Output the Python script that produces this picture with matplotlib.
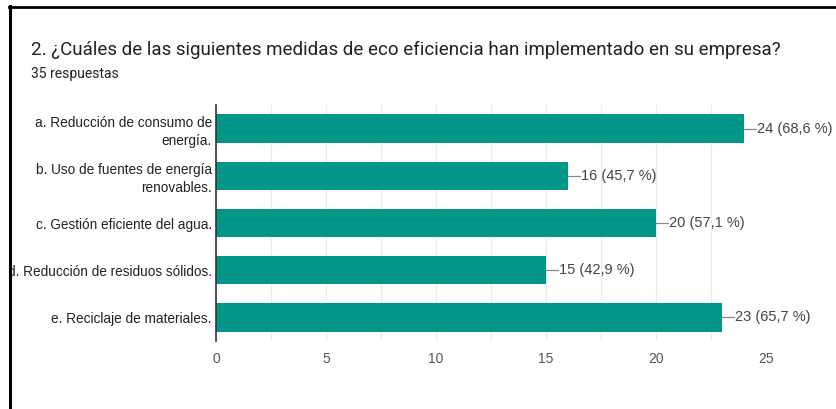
import matplotlib.pyplot as plt
from matplotlib.lines import Line2D
from matplotlib.patches import Rectangle

# survey data
categories = ["a. Reducción de consumo de\nenergía.",
              "b. Uso de fuentes de energía\nrenovables.",
              "c. Gestión eficiente del agua.",
              "d. Reducción de residuos sólidos.",
              "e. Reciclaje de materiales."]
counts = [24, 16, 20, 15, 23]
total = 35
xticks = [0, 5, 10, 15, 20, 25]

title = "2. ¿Cuáles de las siguientes medidas de eco eficiencia han implementado en su empresa?"
subtitle = f"{total} respuestas"

bar_color = "#009688"
text_color = "#444444"

fig = plt.figure(figsize=(8.36, 4.09), dpi=100)
ax = fig.add_axes([216 / 836, 1 - 341 / 409, 550 / 836, 236 / 409])

y = list(range(len(categories)))
ax.barh(y, counts, height=0.6, color=bar_color, zorder=3)
ax.set_ylim(len(categories) - 0.5, -0.5)
ax.set_xlim(0, 25)

ax.set_yticks(y)
ax.set_yticklabels(categories, fontsize=9.8, color="#222222",
                   family="Liberation Sans", linespacing=1.35,
                   multialignment="right")
ax.set_xticks(xticks)
ax.set_xticklabels([str(t) for t in xticks], fontsize=10, color="#555555",
                   family="Liberation Sans")
ax.set_xticks([2.5, 7.5, 12.5, 17.5, 22.5], minor=True)
ax.tick_params(axis="both", which="both", length=0, pad=8)
ax.tick_params(axis="y", pad=3)
ax.grid(axis="x", which="both", color="#ebebeb", linewidth=1, zorder=0)

for s in ["top", "right", "bottom"]:
    ax.spines[s].set_visible(False)
ax.spines["left"].set_color("#333333")
ax.spines["left"].set_linewidth(1.2)
ax.spines["left"].set_zorder(4)

# value labels with leader lines
for yi, c in zip(y, counts):
    pct = f"{100 * c / total:.1f}".replace(".", ",")
    ax.plot([c, c + 0.55], [yi, yi], color="#888888", linewidth=0.9,
            clip_on=False, zorder=3)
    ax.text(c + 0.58, yi, f"{c} ({pct} %)", va="center", ha="left",
            fontsize=10.5, color=text_color, family="Liberation Sans")

fig.text(31 / 836, 1 - 50 / 409, title, fontsize=13.5, color="#202124",
         family="Roboto", va="center", ha="left")
fig.text(31 / 836, 1 - 74 / 409, subtitle, fontsize=10, color="#202124",
         family="Roboto", va="center", ha="left")

# screenshot frame: white margin left, black border left and top
fig.patches.append(Rectangle((0, 0), 9 / 836, 1, transform=fig.transFigure,
                             color="white", zorder=10))
fig.lines.append(Line2D([10 / 836, 10 / 836], [0, 1 - 6 / 409],
                        transform=fig.transFigure, color="black",
                        linewidth=2.2, zorder=11))
fig.lines.append(Line2D([9 / 836, 1], [1 - 7 / 409, 1 - 7 / 409],
                        transform=fig.transFigure, color="black",
                        linewidth=2.0, zorder=11))

fig.savefig("out.png", dpi=100)
